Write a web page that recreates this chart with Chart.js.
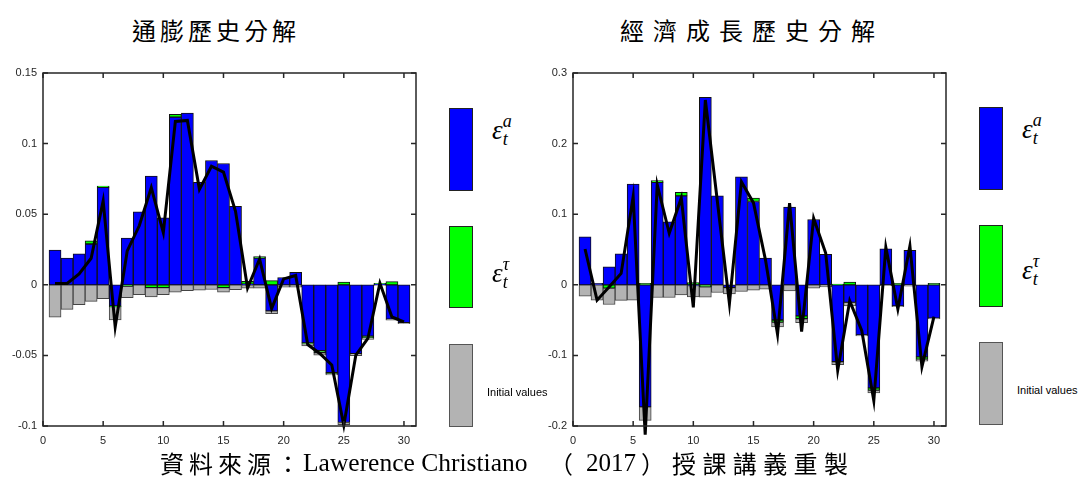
<!DOCTYPE html>
<html>
<head>
<meta charset="utf-8">
<script src="https://cdn.jsdelivr.net/npm/chart.js@4.4.1/dist/chart.umd.min.js"></script>
<style>
  body { margin: 0; background: #fff; width: 1089px; height: 479px; position: relative; overflow: hidden; font-family: 'Liberation Sans', Arial, sans-serif; }
  canvas { position: absolute; }
  .title { position: absolute; top: 15px; font: 24px 'Noto Sans CJK TC', sans-serif; line-height: 30px; color: #000; white-space: nowrap; }
  .swatch { position: absolute; width: 24px; box-sizing: border-box; border: 1px solid #222; }
  .eps { position: absolute; font: italic 27px 'Liberation Serif', serif; color: #000; white-space: nowrap; line-height: 1; }
  .eps .ss { display: inline-block; vertical-align: -6px; font-size: 18px; line-height: 1; }
  .eps .ss span { display: block; }
  .init { position: absolute; font-size: 11px; color: #000; white-space: nowrap; }
  .cap { position: absolute; top: 448px; font-size: 24px; white-space: nowrap; color: #000; line-height: 30px; }
  .cjk { font-family: 'Noto Sans CJK TC', sans-serif; }
  .lat { font-family: 'Liberation Serif', serif; }
</style>
</head>
<body>
<div class="title" style="left:132px;letter-spacing:4px">通膨歷史分解</div>
<div class="title" style="left:620px;letter-spacing:9px">經濟成長歷史分解</div>

<canvas id="chart-infl" width="430" height="400" style="left:0;top:60px"></canvas>
<canvas id="chart-growth" width="430" height="400" style="left:530px;top:60px"></canvas>

<!-- legends -->
<div class="swatch" style="left:449px;top:108px;height:83px;background:#0000ff"></div>
<div class="swatch" style="left:449px;top:226px;height:82px;background:#00ff00"></div>
<div class="swatch" style="left:449px;top:344px;height:83px;background:#b3b3b3;border-color:#555"></div>
<div class="eps" style="left:492px;top:112px">ε<span class="ss"><span>a</span><span>t</span></span></div>
<div class="eps" style="left:492px;top:255px">ε<span class="ss"><span>τ</span><span>t</span></span></div>
<div class="init" style="left:487px;top:386px">Initial values</div>

<div class="swatch" style="left:979px;top:107px;height:83px;background:#0000ff"></div>
<div class="swatch" style="left:979px;top:225px;height:82px;background:#00ff00"></div>
<div class="swatch" style="left:979px;top:342px;height:83px;background:#b3b3b3;border-color:#555"></div>
<div class="eps" style="left:1022px;top:111px">ε<span class="ss"><span>a</span><span>t</span></span></div>
<div class="eps" style="left:1022px;top:252px">ε<span class="ss"><span>τ</span><span>t</span></span></div>
<div class="init" style="left:1017px;top:384px">Initial values</div>

<!-- source line -->
<div class="cap cjk" style="left:160px;letter-spacing:5px">資料來源：</div>
<div class="cap lat" style="left:303px;font-size:25.5px">Lawerence Christiano</div>
<div class="cap cjk" style="left:549px">（</div>
<div class="cap lat" style="left:586px;font-size:25px">2017</div>
<div class="cap cjk" style="left:641px">）</div>
<div class="cap cjk" style="left:672px;letter-spacing:6.4px">授課講義重製</div>

<script>
// periods 1..30
const periods = Array.from({ length: 30 }, (_, i) => i + 1);
const xTicks = [0, 5, 10, 15, 20, 25, 30];

// inflation decomposition
const inflShockA = [0.0246, 0.019, 0.022, 0.0289, 0.069, -0.015, 0.0331, 0.0516, 0.077, 0.0474,
  0.1188, 0.1216, 0.0725, 0.088, 0.0859, 0.0556, 0.0005, 0.019, -0.0185, 0.0052,
  0.0089, -0.0411, -0.0467, -0.0622, -0.0975, -0.0488, -0.0364, 0.0005, -0.0244, -0.0268];
const inflShockTau = [0, 0, 0, 0.0023, 0.001, -0.0005, -0.001, 0, -0.002, -0.002,
  0.002, 0, 0, 0, -0.002, 0, 0.0019, 0.001, 0.003, 0,
  0, -0.0005, -0.0014, -0.0005, 0.0019, 0, -0.0012, 0.0005, 0.0023, 0];
const inflInitial = [-0.023, -0.0174, -0.0141, -0.0117, -0.0099, -0.0094, -0.0082, -0.007, -0.0065, -0.005,
  -0.0052, -0.0042, -0.0038, -0.0033, -0.0032, -0.0035, -0.0023, -0.0023, -0.002, -0.0016,
  -0.0016, -0.0016, -0.0017, -0.0012, -0.0015, -0.0014, -0.0011, -0.0005, -0.0006, -0.0007];
const inflActual = [0.001, 0.001, 0.0077, 0.0188, 0.0594, -0.0298, 0.024, 0.0418, 0.0688, 0.037,
  0.1157, 0.1164, 0.0676, 0.084, 0.0798, 0.052, -0.0023, 0.0183, -0.0169, 0.0042,
  0.0066, -0.0423, -0.0486, -0.0568, -0.0995, -0.0498, -0.038, 0.0012, -0.0228, -0.0263];
const inflTicks = [-0.1, -0.05, 0, 0.05, 0.1, 0.15];

// growth decomposition
const growShockA = [0.068, 0.002, 0.0256, 0.0437, 0.1427, -0.173, 0.145, 0.0892, 0.126, -0.001,
  0.2656, 0.126, -0.004, 0.153, 0.118, 0.038, -0.0498, 0.11, -0.0441, 0.0925,
  0.043, -0.109, -0.025, -0.0711, -0.146, 0.0508, -0.0299, 0.0488, -0.102, -0.0474];
const growShockTau = [0, 0, -0.0047, 0, 0, 0.002, 0.0025, 0, 0.005, 0.003,
  -0.003, 0, 0, 0, 0.0047, 0, -0.0033, 0, -0.004, 0,
  0, 0.001, 0.004, 0, -0.0033, 0, 0.002, 0, -0.0033, 0.002];
const growInitial = [-0.0161, -0.0218, -0.0232, -0.022, -0.0218, -0.019, -0.018, -0.018, -0.0142, -0.016,
  -0.0145, -0.0109, -0.009, -0.0095, -0.0076, -0.0062, -0.0066, -0.0085, -0.0054, -0.0047,
  -0.003, -0.004, -0.0048, -0.0014, -0.0037, -0.0014, -0.001, -0.002, -0.0027, -0.001];
const growActual = [0.0507, -0.0218, -0.003, 0.0161, 0.125, -0.2124, 0.1417, 0.073, 0.123, -0.032,
  0.2617, 0.118, -0.0265, 0.146, 0.116, 0.035, -0.07, 0.1157, -0.0662, 0.094,
  0.045, -0.121, -0.0227, -0.065, -0.164, 0.053, -0.0345, 0.055, -0.116, -0.045];
const growTicks = [-0.2, -0.1, 0, 0.1, 0.2, 0.3];

const axisColor = '#262626';

// MATLAB-like box with inward ticks on all four sides
const matlabBox = {
  id: 'matlabBox',
  afterDraw(chart) {
    const { ctx, chartArea: a, scales: { x, y } } = chart;
    const len = 5;
    ctx.save();
    ctx.strokeStyle = axisColor;
    ctx.lineWidth = 1.5;
    ctx.strokeRect(a.left, a.top, a.right - a.left, a.bottom - a.top);
    ctx.beginPath();
    x.ticks.forEach(t => {
      const px = x.getPixelForValue(t.value);
      ctx.moveTo(px, a.bottom); ctx.lineTo(px, a.bottom - len);
      ctx.moveTo(px, a.top); ctx.lineTo(px, a.top + len);
    });
    y.ticks.forEach(t => {
      const py = y.getPixelForValue(t.value);
      ctx.moveTo(a.left, py); ctx.lineTo(a.left + len, py);
      ctx.moveTo(a.right, py); ctx.lineTo(a.right - len, py);
    });
    ctx.stroke();
    ctx.restore();
  }
};

function pts(arr) { return arr.map((v, i) => ({ x: periods[i], y: v })); }

function makeChart(id, shockA, shockTau, initial, actual, yTicks) {
  const barBase = { type: 'bar', stack: 'parts', order: 1, borderWidth: 1, borderSkipped: false,
    barPercentage: 1, categoryPercentage: 1 };
  return new Chart(document.getElementById(id), {
    type: 'bar',
    data: {
      datasets: [
        { ...barBase, data: pts(shockA), backgroundColor: '#0000ff', borderColor: '#111' },
        { ...barBase, data: pts(shockTau), backgroundColor: '#00ff00', borderColor: '#111' },
        { ...barBase, data: pts(initial), backgroundColor: '#b3b3b3', borderColor: '#444' },
        { type: 'line', stack: 'actual', order: 0, data: pts(actual), borderColor: '#000',
          borderWidth: 3, pointRadius: 0, tension: 0, fill: false, clip: false }
      ]
    },
    options: {
      responsive: false,
      animation: false,
      events: [],
      layout: { padding: { top: 13, right: 14, left: 0, bottom: 0 } },
      plugins: { legend: { display: false }, tooltip: { enabled: false } },
      scales: {
        x: {
          type: 'linear', min: 0, max: 31, offset: false, stacked: true,
          grid: { display: false, drawTicks: false }, border: { display: false },
          ticks: { color: axisColor, font: { family: 'Liberation Sans', size: 11 }, padding: 8, maxRotation: 0 },
          afterBuildTicks: s => { s.ticks = xTicks.map(v => ({ value: v })); },
          afterFit: s => { s.height = 34; }
        },
        y: {
          min: yTicks[0], max: yTicks[yTicks.length - 1], stacked: true,
          grid: { display: false, drawTicks: false }, border: { display: false },
          ticks: { color: axisColor, font: { family: 'Liberation Sans', size: 11 }, padding: 6,
            callback: v => String(+v.toFixed(2)) },
          afterBuildTicks: s => { s.ticks = yTicks.map(v => ({ value: v })); },
          afterFit: s => { s.width = 43; }
        }
      }
    },
    plugins: [matlabBox]
  });
}

makeChart('chart-infl', inflShockA, inflShockTau, inflInitial, inflActual, inflTicks);
makeChart('chart-growth', growShockA, growShockTau, growInitial, growActual, growTicks);
</script>
</body>
</html>
